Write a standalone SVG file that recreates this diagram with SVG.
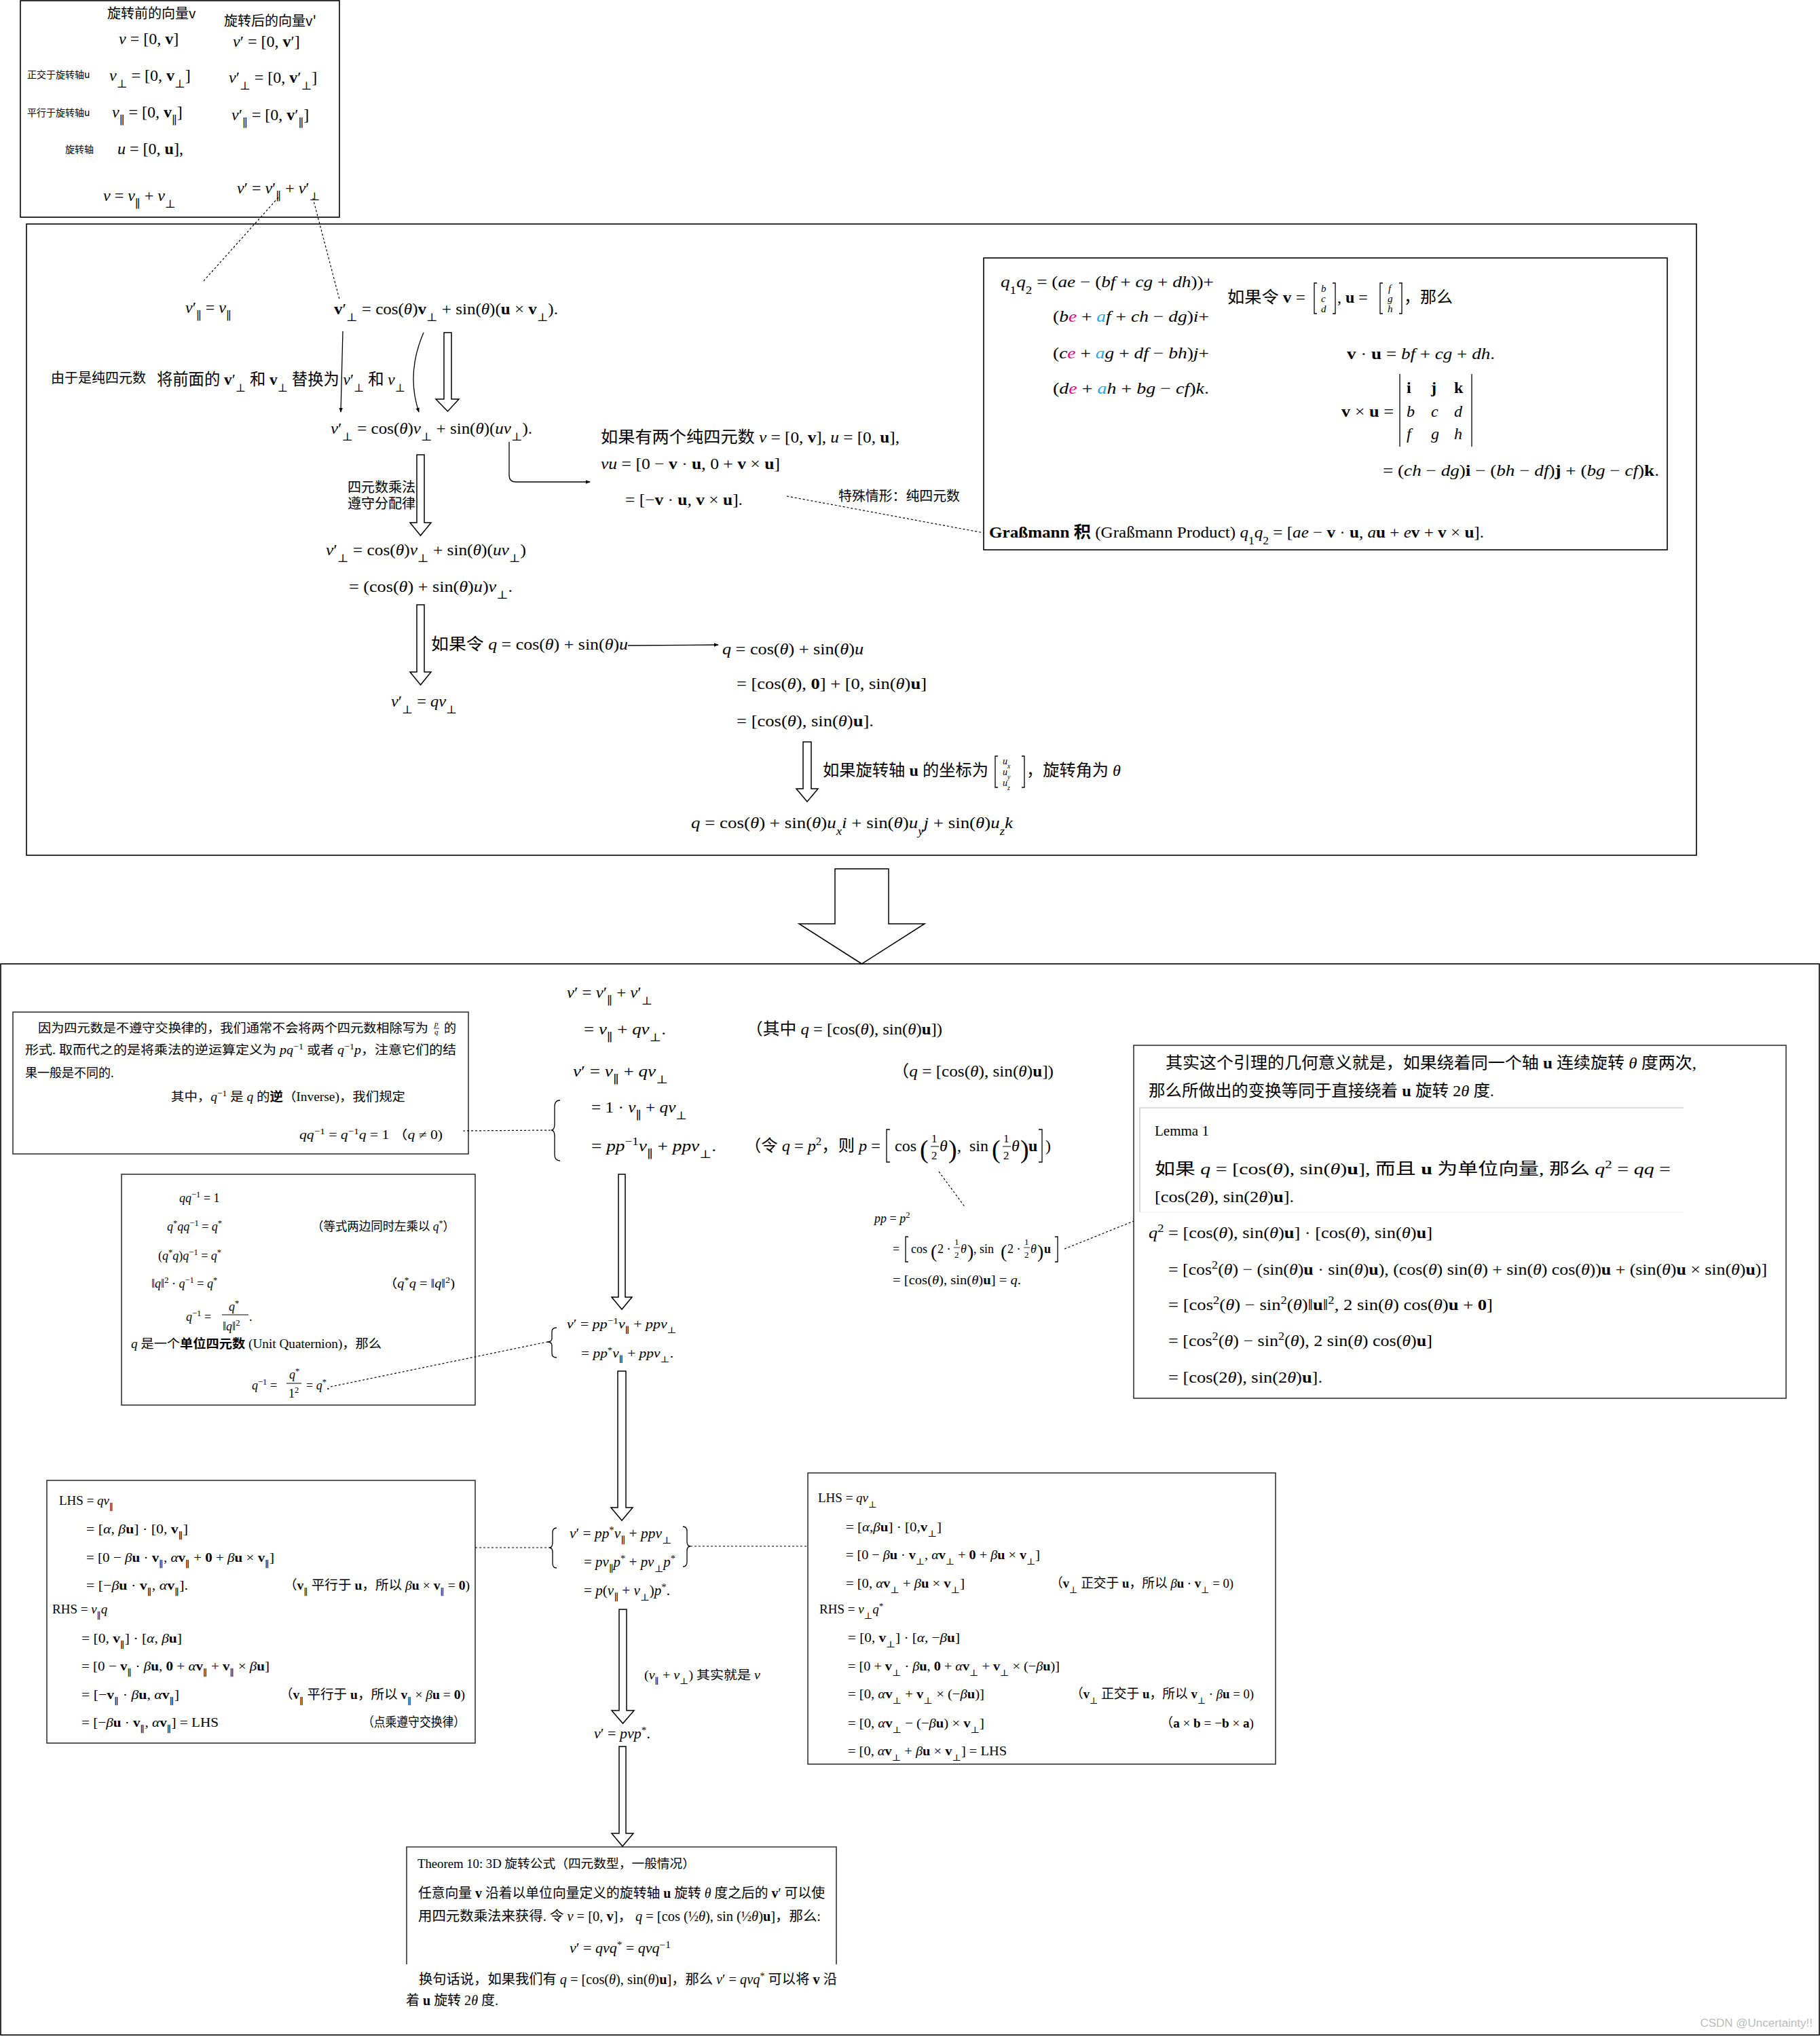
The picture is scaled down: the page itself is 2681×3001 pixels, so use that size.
<svg xmlns="http://www.w3.org/2000/svg" width="2681" height="3001" viewBox="0 0 2681 3001">
<defs>
<style>
.m{font-family:"Liberation Serif","DejaVu Serif","Noto Sans CJK SC",serif;fill:#000}
.cn{font-family:"Noto Sans CJK SC","Liberation Sans",sans-serif;fill:#000}
.i{font-style:italic}
.b{font-weight:bold}
.s{font-size:70%;baseline-shift:sub}
.p{font-size:70%;baseline-shift:super}
.pk{fill:#e6007e}
.bl{fill:#29a9e0}
.frame{fill:none;stroke:#000;stroke-width:1.6}
.box{fill:none;stroke:#333;stroke-width:1.6}
.hol{fill:#fff;stroke:#000;stroke-width:1.5;stroke-linejoin:miter}
.thin{fill:none;stroke:#000;stroke-width:1.3}
.dot{fill:none;stroke:#000;stroke-width:1.2;stroke-dasharray:3 3}
.br{fill:none;stroke:#000;stroke-width:1.3}
</style>
<marker id="ah" viewBox="0 0 10 10" refX="9" refY="5" markerWidth="7" markerHeight="7" orient="auto" markerUnits="userSpaceOnUse">
<path d="M0,1 L10,5 L0,9 Z" fill="#000"/>
</marker>
</defs>
<rect x="0" y="0" width="2681" height="3001" fill="#fff"/>

<!-- top box -->
<g id="top-box">
<rect class="frame" x="30" y="1" width="470" height="319"/>
<text class="cn" x="158" y="27" font-size="20">旋转前的向量v</text>
<text class="cn" x="330" y="38" font-size="20">旋转后的向量v'</text>
<text class="m" x="175" y="65" font-size="24"><tspan class="i">v</tspan> = [0, <tspan class="b">v</tspan>]</text>
<text class="m" x="343" y="69" font-size="24"><tspan class="i">v</tspan>′ = [0, <tspan class="b">v</tspan>′]</text>
<text class="cn" x="40" y="115" font-size="14">正交于旋转轴u</text>
<text class="m" x="161" y="119" font-size="24"><tspan class="i">v</tspan><tspan class="s">⊥</tspan> = [0, <tspan class="b">v</tspan><tspan class="s">⊥</tspan>]</text>
<text class="m" x="337" y="122" font-size="24"><tspan class="i">v</tspan>′<tspan class="s">⊥</tspan> = [0, <tspan class="b">v</tspan>′<tspan class="s">⊥</tspan>]</text>
<text class="cn" x="40" y="171" font-size="14">平行于旋转轴u</text>
<text class="m" x="165" y="173" font-size="24"><tspan class="i">v</tspan><tspan class="s">∥</tspan> = [0, <tspan class="b">v</tspan><tspan class="s">∥</tspan>]</text>
<text class="m" x="341" y="177" font-size="24"><tspan class="i">v</tspan>′<tspan class="s">∥</tspan> = [0, <tspan class="b">v</tspan>′<tspan class="s">∥</tspan>]</text>
<text class="cn" x="96" y="225" font-size="14">旋转轴</text>
<text class="m" x="173" y="227" font-size="24"><tspan class="i">u</tspan> = [0, <tspan class="b">u</tspan>],</text>
<text class="m" x="152" y="296" font-size="24"><tspan class="i">v</tspan> = <tspan class="i">v</tspan><tspan class="s">∥</tspan> + <tspan class="i">v</tspan><tspan class="s">⊥</tspan></text>
<text class="m" x="349" y="285" font-size="24"><tspan class="i">v</tspan>′ = <tspan class="i">v</tspan>′<tspan class="s">∥</tspan> + <tspan class="i">v</tspan>′<tspan class="s">⊥</tspan></text>
</g>

<!-- upper frame -->
<g id="upper-frame">
<rect class="frame" x="39" y="330" width="2460" height="930"/>
</g>

<g id="eq-vpar">
<text class="m" x="273" y="461" font-size="24"><tspan class="i">v</tspan>′<tspan class="s">∥</tspan> = <tspan class="i">v</tspan><tspan class="s">∥</tspan></text>
</g>
<g id="eq-vperp-vec">
<text class="m" x="492" y="463" font-size="24" textLength="330" lengthAdjust="spacingAndGlyphs"><tspan class="b">v</tspan>′<tspan class="s">⊥</tspan> = cos(<tspan class="i">θ</tspan>)<tspan class="b">v</tspan><tspan class="s">⊥</tspan> + sin(<tspan class="i">θ</tspan>)(<tspan class="b">u</tspan> × <tspan class="b">v</tspan><tspan class="s">⊥</tspan>).</text>
</g>
<g id="label-replace">
<text class="cn" x="75" y="564" font-size="20">由于是纯四元数</text>
<text class="m" x="231" y="567" font-size="24" textLength="366" lengthAdjust="spacingAndGlyphs">将前面的 <tspan class="b">v</tspan>′<tspan class="s">⊥</tspan> 和 <tspan class="b">v</tspan><tspan class="s">⊥</tspan> 替换为 <tspan class="i">v</tspan>′<tspan class="s">⊥</tspan> 和 <tspan class="i">v</tspan><tspan class="s">⊥</tspan></text>
</g>
<g id="eq-vperp-q1">
<text class="m" x="487" y="639" font-size="24" textLength="297" lengthAdjust="spacingAndGlyphs"><tspan class="i">v</tspan>′<tspan class="s">⊥</tspan> = cos(<tspan class="i">θ</tspan>)<tspan class="i">v</tspan><tspan class="s">⊥</tspan> + sin(<tspan class="i">θ</tspan>)(<tspan class="i">uv</tspan><tspan class="s">⊥</tspan>).</text>
</g>
<g id="label-distrib">
<text class="cn" x="512" y="725" font-size="20">四元数乘法</text>
<text class="cn" x="512" y="749" font-size="20">遵守分配律</text>
</g>
<g id="eq-vperp-q2">
<text class="m" x="480" y="818" font-size="24" textLength="295" lengthAdjust="spacingAndGlyphs"><tspan class="i">v</tspan>′<tspan class="s">⊥</tspan> = cos(<tspan class="i">θ</tspan>)<tspan class="i">v</tspan><tspan class="s">⊥</tspan> + sin(<tspan class="i">θ</tspan>)(<tspan class="i">uv</tspan><tspan class="s">⊥</tspan>)</text>
<text class="m" x="514" y="872" font-size="24" textLength="241" lengthAdjust="spacingAndGlyphs">= (cos(<tspan class="i">θ</tspan>) + sin(<tspan class="i">θ</tspan>)<tspan class="i">u</tspan>)<tspan class="i">v</tspan><tspan class="s">⊥</tspan>.</text>
</g>
<g id="label-letq">
<text class="m" x="635" y="957" font-size="24" textLength="290" lengthAdjust="spacingAndGlyphs">如果令 <tspan class="i">q</tspan> = cos(<tspan class="i">θ</tspan>) + sin(<tspan class="i">θ</tspan>)<tspan class="i">u</tspan></text>
</g>
<g id="eq-qv">
<text class="m" x="576" y="1041" font-size="24" textLength="97" lengthAdjust="spacingAndGlyphs"><tspan class="i">v</tspan>′<tspan class="s">⊥</tspan> = <tspan class="i">qv</tspan><tspan class="s">⊥</tspan></text>
</g>
<g id="eq-pure">
<text class="m" x="885" y="652" font-size="24" textLength="440" lengthAdjust="spacingAndGlyphs">如果有两个纯四元数 <tspan class="i">v</tspan> = [0, <tspan class="b">v</tspan>], <tspan class="i">u</tspan> = [0, <tspan class="b">u</tspan>],</text>
<text class="m" x="885" y="691" font-size="24" textLength="264" lengthAdjust="spacingAndGlyphs"><tspan class="i">vu</tspan> = [0 − <tspan class="b">v</tspan> · <tspan class="b">u</tspan>, 0 + <tspan class="b">v</tspan> × <tspan class="b">u</tspan>]</text>
<text class="m" x="921" y="744" font-size="24" textLength="173" lengthAdjust="spacingAndGlyphs">= [−<tspan class="b">v</tspan> · <tspan class="b">u</tspan>, <tspan class="b">v</tspan> × <tspan class="b">u</tspan>].</text>
</g>
<g id="label-special">
<text class="cn" x="1235" y="738" font-size="20" textLength="179" lengthAdjust="spacingAndGlyphs">特殊情形：纯四元数</text>
</g>
<g id="eq-q">
<text class="m" x="1064" y="964" font-size="24" textLength="208" lengthAdjust="spacingAndGlyphs"><tspan class="i">q</tspan> = cos(<tspan class="i">θ</tspan>) + sin(<tspan class="i">θ</tspan>)<tspan class="i">u</tspan></text>
<text class="m" x="1085" y="1015" font-size="24" textLength="280" lengthAdjust="spacingAndGlyphs">= [cos(<tspan class="i">θ</tspan>), <tspan class="b">0</tspan>] + [0, sin(<tspan class="i">θ</tspan>)<tspan class="b">u</tspan>]</text>
<text class="m" x="1085" y="1070" font-size="24" textLength="202" lengthAdjust="spacingAndGlyphs">= [cos(<tspan class="i">θ</tspan>), sin(<tspan class="i">θ</tspan>)<tspan class="b">u</tspan>].</text>
</g>
<g id="label-axis">
<text class="m" x="1212" y="1143" font-size="24" textLength="244" lengthAdjust="spacingAndGlyphs">如果旋转轴 <tspan class="b">u</tspan> 的坐标为</text>
<path class="br" d="M1470,1114 L1466,1114 L1466,1160 L1470,1160 M1505,1114 L1509,1114 L1509,1160 L1505,1160"/>
<text class="m i" x="1477" y="1126" font-size="14">u<tspan class="s">x</tspan></text>
<text class="m i" x="1477" y="1142" font-size="14">u<tspan class="s">y</tspan></text>
<text class="m i" x="1477" y="1158" font-size="14">u<tspan class="s">z</tspan></text>
<text class="m" x="1512" y="1143" font-size="24" textLength="139" lengthAdjust="spacingAndGlyphs">，旋转角为 <tspan class="i">θ</tspan></text>
</g>
<g id="eq-qijk">
<text class="m" x="1018" y="1220" font-size="24" textLength="474" lengthAdjust="spacingAndGlyphs"><tspan class="i">q</tspan> = cos(<tspan class="i">θ</tspan>) + sin(<tspan class="i">θ</tspan>)<tspan class="i">u</tspan><tspan class="s i">x</tspan><tspan class="i">i</tspan> + sin(<tspan class="i">θ</tspan>)<tspan class="i">u</tspan><tspan class="s i">y</tspan><tspan class="i">j</tspan> + sin(<tspan class="i">θ</tspan>)<tspan class="i">u</tspan><tspan class="s i">z</tspan><tspan class="i">k</tspan></text>
</g>

<!-- Grassmann box -->
<g id="grassmann-box">
<rect class="frame" x="1449" y="380" width="1007" height="430"/>
<text class="m" x="1474" y="423" font-size="24" textLength="314" lengthAdjust="spacingAndGlyphs"><tspan class="i">q</tspan><tspan class="s">1</tspan><tspan class="i">q</tspan><tspan class="s">2</tspan> = (<tspan class="i">ae</tspan> − (<tspan class="i">bf</tspan> + <tspan class="i">cg</tspan> + <tspan class="i">dh</tspan>))+</text>
<text class="m" x="1551" y="474" font-size="24" textLength="230" lengthAdjust="spacingAndGlyphs">(<tspan class="i">b</tspan><tspan class="i pk">e</tspan> + <tspan class="i bl">a</tspan><tspan class="i">f</tspan> + <tspan class="i">ch</tspan> − <tspan class="i">dg</tspan>)<tspan class="i">i</tspan>+</text>
<text class="m" x="1551" y="528" font-size="24" textLength="230" lengthAdjust="spacingAndGlyphs">(<tspan class="i">c</tspan><tspan class="i pk">e</tspan> + <tspan class="i bl">a</tspan><tspan class="i">g</tspan> + <tspan class="i">df</tspan> − <tspan class="i">bh</tspan>)<tspan class="i">j</tspan>+</text>
<text class="m" x="1551" y="580" font-size="24" textLength="230" lengthAdjust="spacingAndGlyphs">(<tspan class="i">d</tspan><tspan class="i pk">e</tspan> + <tspan class="i bl">a</tspan><tspan class="i">h</tspan> + <tspan class="i">bg</tspan> − <tspan class="i">cf</tspan>)<tspan class="i">k</tspan>.</text>
<text class="m" x="1808" y="446" font-size="24" textLength="115" lengthAdjust="spacingAndGlyphs">如果令 <tspan class="b">v</tspan> =</text>
<path class="br" d="M1940,417 L1936,417 L1936,462 L1940,462 M1963,417 L1967,417 L1967,462 L1963,462"/>
<text class="m i" x="1946" y="430" font-size="15">b</text>
<text class="m i" x="1946" y="445" font-size="15">c</text>
<text class="m i" x="1946" y="460" font-size="15">d</text>
<text class="m" x="1970" y="446" font-size="24">, <tspan class="b">u</tspan> =</text>
<path class="br" d="M2037,417 L2033,417 L2033,462 L2037,462 M2061,417 L2065,417 L2065,462 L2061,462"/>
<text class="m i" x="2045" y="430" font-size="15">f</text>
<text class="m i" x="2044" y="445" font-size="15">g</text>
<text class="m i" x="2044" y="460" font-size="15">h</text>
<text class="m" x="2068" y="446" font-size="24">，那么</text>
<text class="m" x="1984" y="529" font-size="24" textLength="218" lengthAdjust="spacingAndGlyphs"><tspan class="b">v</tspan> · <tspan class="b">u</tspan> = <tspan class="i">bf</tspan> + <tspan class="i">cg</tspan> + <tspan class="i">dh</tspan>.</text>
<text class="m" x="1976" y="614" font-size="24" textLength="77" lengthAdjust="spacingAndGlyphs"><tspan class="b">v</tspan> × <tspan class="b">u</tspan> =</text>
<path class="br" d="M2062,551 L2062,658 M2168,551 L2168,658"/>
<text class="m b" x="2072" y="579" font-size="24">i</text>
<text class="m b" x="2108" y="579" font-size="24">j</text>
<text class="m b" x="2142" y="579" font-size="24">k</text>
<text class="m i" x="2072" y="614" font-size="24">b</text>
<text class="m i" x="2108" y="614" font-size="24">c</text>
<text class="m i" x="2142" y="614" font-size="24">d</text>
<text class="m i" x="2072" y="647" font-size="24">f</text>
<text class="m i" x="2108" y="647" font-size="24">g</text>
<text class="m i" x="2142" y="647" font-size="24">h</text>
<text class="m" x="2037" y="701" font-size="24" textLength="407" lengthAdjust="spacingAndGlyphs">= (<tspan class="i">ch</tspan> − <tspan class="i">dg</tspan>)<tspan class="b">i</tspan> − (<tspan class="i">bh</tspan> − <tspan class="i">df</tspan>)<tspan class="b">j</tspan> + (<tspan class="i">bg</tspan> − <tspan class="i">cf</tspan>)<tspan class="b">k</tspan>.</text>
<text class="m" x="1457" y="792" font-size="24" textLength="729" lengthAdjust="spacingAndGlyphs"><tspan class="b">Graßmann 积</tspan> (Graßmann Product)  <tspan class="i">q</tspan><tspan class="s">1</tspan><tspan class="i">q</tspan><tspan class="s">2</tspan> = [<tspan class="i">ae</tspan> − <tspan class="b">v</tspan> · <tspan class="b">u</tspan>, <tspan class="i">a</tspan><tspan class="b">u</tspan> + <tspan class="i">e</tspan><tspan class="b">v</tspan> + <tspan class="b">v</tspan> × <tspan class="b">u</tspan>].</text>
</g>

<!-- lower frame -->
<g id="lower-frame">
<rect class="frame" x="1" y="1420" width="2679" height="1578"/>
</g>

<g id="inverse-box">
<rect class="box" x="19" y="1491" width="671" height="209"/>
<text class="m" x="56" y="1521" font-size="18" textLength="575" lengthAdjust="spacingAndGlyphs">因为四元数是不遵守交换律的，我们通常不会将两个四元数相除写为</text>
<text class="m i" x="640" y="1512" font-size="11">p</text>
<path d="M639,1515 L647,1515" stroke="#000" stroke-width="0.8"/>
<text class="m i" x="640" y="1524" font-size="11">q</text>
<text class="m" x="654" y="1521" font-size="18">的</text>
<text class="m" x="37" y="1553" font-size="18" textLength="635" lengthAdjust="spacingAndGlyphs">形式. 取而代之的是将乘法的逆运算定义为 <tspan class="i">pq</tspan><tspan class="p">−1</tspan> 或者 <tspan class="i">q</tspan><tspan class="p">−1</tspan><tspan class="i">p</tspan>，注意它们的结</text>
<text class="m" x="37" y="1587" font-size="18">果一般是不同的.</text>
<text class="m" x="252" y="1622" font-size="18" textLength="345" lengthAdjust="spacingAndGlyphs">其中，<tspan class="i">q</tspan><tspan class="p">−1</tspan> 是 <tspan class="i">q</tspan> 的<tspan class="b">逆</tspan>（Inverse)，我们规定</text>
<text class="m" x="441" y="1678" font-size="18" textLength="211" lengthAdjust="spacingAndGlyphs"><tspan class="i">qq</tspan><tspan class="p">−1</tspan> = <tspan class="i">q</tspan><tspan class="p">−1</tspan><tspan class="i">q</tspan> = 1 （<tspan class="i">q</tspan> ≠ 0)</text>
</g>

<g id="unit-box">
<rect class="box" x="179" y="1730" width="521" height="340"/>
<text class="m" x="264" y="1771" font-size="18"><tspan class="i">qq</tspan><tspan class="p">−1</tspan> = 1</text>
<text class="m" x="246" y="1813" font-size="18"><tspan class="i">q</tspan><tspan class="p">*</tspan><tspan class="i">qq</tspan><tspan class="p">−1</tspan> = <tspan class="i">q</tspan><tspan class="p">*</tspan></text>
<text class="m" x="459" y="1813" font-size="18" textLength="211" lengthAdjust="spacingAndGlyphs">（等式两边同时左乘以 <tspan class="i">q</tspan><tspan class="p">*</tspan>）</text>
<text class="m" x="233" y="1856" font-size="18">(<tspan class="i">q</tspan><tspan class="p">*</tspan><tspan class="i">q</tspan>)<tspan class="i">q</tspan><tspan class="p">−1</tspan> = <tspan class="i">q</tspan><tspan class="p">*</tspan></text>
<text class="m" x="223" y="1897" font-size="18">‖<tspan class="i">q</tspan>‖<tspan class="p">2</tspan> · <tspan class="i">q</tspan><tspan class="p">−1</tspan> = <tspan class="i">q</tspan><tspan class="p">*</tspan></text>
<text class="m" x="565" y="1897" font-size="18" textLength="105" lengthAdjust="spacingAndGlyphs">（<tspan class="i">q</tspan><tspan class="p">*</tspan><tspan class="i">q</tspan> = ‖<tspan class="i">q</tspan>‖<tspan class="p">2</tspan>)</text>
<text class="m" x="274" y="1946" font-size="18"><tspan class="i">q</tspan><tspan class="p">−1</tspan> =</text>
<text class="m" x="337" y="1931" font-size="18"><tspan class="i">q</tspan><tspan class="p">*</tspan></text>
<path d="M327,1937 L366,1937" stroke="#000" stroke-width="1"/>
<text class="m" x="328" y="1960" font-size="18">‖<tspan class="i">q</tspan>‖<tspan class="p">2</tspan></text>
<text class="m" x="367" y="1946" font-size="18">.</text>
<text class="m" x="193" y="1986" font-size="18" textLength="369" lengthAdjust="spacingAndGlyphs"><tspan class="i">q</tspan> 是一个<tspan class="b">单位四元数</tspan> (Unit Quaternion)，那么</text>
<text class="m" x="371" y="2047" font-size="18"><tspan class="i">q</tspan><tspan class="p">−1</tspan> =</text>
<text class="m" x="426" y="2031" font-size="18"><tspan class="i">q</tspan><tspan class="p">*</tspan></text>
<path d="M422,2038 L444,2038" stroke="#000" stroke-width="1"/>
<text class="m" x="425" y="2059" font-size="18">1<tspan class="p">2</tspan></text>
<text class="m" x="451" y="2047" font-size="18">= <tspan class="i">q</tspan><tspan class="p">*</tspan>.</text>
</g>

<g id="eq-vprime">
<text class="m" x="835" y="1470" font-size="24" textLength="126" lengthAdjust="spacingAndGlyphs"><tspan class="i">v</tspan>′ = <tspan class="i">v</tspan>′<tspan class="s">∥</tspan> + <tspan class="i">v</tspan>′<tspan class="s">⊥</tspan></text>
<text class="m" x="860" y="1524" font-size="24" textLength="121" lengthAdjust="spacingAndGlyphs">= <tspan class="i">v</tspan><tspan class="s">∥</tspan> + <tspan class="i">qv</tspan><tspan class="s">⊥</tspan>.</text>
<text class="m" x="1099" y="1524" font-size="24" textLength="289" lengthAdjust="spacingAndGlyphs">（其中 <tspan class="i">q</tspan> = [cos(<tspan class="i">θ</tspan>), sin(<tspan class="i">θ</tspan>)<tspan class="b">u</tspan>])</text>
</g>

<g id="eq-pp">
<text class="m" x="844" y="1586" font-size="24" textLength="140" lengthAdjust="spacingAndGlyphs"><tspan class="i">v</tspan>′ = <tspan class="i">v</tspan><tspan class="s">∥</tspan> + <tspan class="i">qv</tspan><tspan class="s">⊥</tspan></text>
<text class="m" x="1314" y="1586" font-size="24" textLength="238" lengthAdjust="spacingAndGlyphs">（<tspan class="i">q</tspan> = [cos(<tspan class="i">θ</tspan>), sin(<tspan class="i">θ</tspan>)<tspan class="b">u</tspan>])</text>
<text class="m" x="871" y="1639" font-size="24" textLength="141" lengthAdjust="spacingAndGlyphs">= 1 · <tspan class="i">v</tspan><tspan class="s">∥</tspan> + <tspan class="i">qv</tspan><tspan class="s">⊥</tspan></text>
<text class="m" x="871" y="1696" font-size="24" textLength="184" lengthAdjust="spacingAndGlyphs">= <tspan class="i">pp</tspan><tspan class="p">−1</tspan><tspan class="i">v</tspan><tspan class="s">∥</tspan> + <tspan class="i">ppv</tspan><tspan class="s">⊥</tspan>.</text>
<text class="m" x="1097" y="1696" font-size="24" textLength="200" lengthAdjust="spacingAndGlyphs">（令 <tspan class="i">q</tspan> = <tspan class="i">p</tspan><tspan class="p">2</tspan>，则 <tspan class="i">p</tspan> =</text>
<path class="br" d="M1311,1664 L1306,1664 L1306,1712 L1311,1712 M1530,1664 L1535,1664 L1535,1712 L1530,1712"/>
<text class="m" x="1318" y="1696" font-size="24">cos</text>
<text class="m" x="1355" y="1706" font-size="38">(</text>
<text class="m" x="1372" y="1683" font-size="17">1</text>
<path d="M1371,1689 L1383,1689" stroke="#000" stroke-width="1"/>
<text class="m" x="1372" y="1708" font-size="17">2</text>
<text class="m i" x="1384" y="1696" font-size="24">θ</text>
<text class="m" x="1397" y="1706" font-size="38">)</text>
<text class="m" x="1410" y="1696" font-size="24">,</text>
<text class="m" x="1428" y="1696" font-size="24">sin</text>
<text class="m" x="1461" y="1706" font-size="38">(</text>
<text class="m" x="1478" y="1683" font-size="17">1</text>
<path d="M1477,1689 L1489,1689" stroke="#000" stroke-width="1"/>
<text class="m" x="1478" y="1708" font-size="17">2</text>
<text class="m i" x="1490" y="1696" font-size="24">θ</text>
<text class="m" x="1503" y="1706" font-size="38">)</text>
<text class="m b" x="1515" y="1696" font-size="24">u</text>
<text class="m" x="1540" y="1696" font-size="24">)</text>
</g>

<g id="eq-p-square">
<text class="m" x="1288" y="1801" font-size="18"><tspan class="i">pp</tspan> = <tspan class="i">p</tspan><tspan class="p">2</tspan></text>
<text class="m" x="1315" y="1846" font-size="18">=</text>
<path class="br" d="M1338,1822 L1334,1822 L1334,1859 L1338,1859 M1554,1822 L1558,1822 L1558,1859 L1554,1859"/>
<text class="m" x="1342" y="1846" font-size="18">cos</text>
<text class="m" x="1371" y="1853" font-size="28">(</text>
<text class="m" x="1381" y="1846" font-size="18">2 ·</text>
<text class="m" x="1406" y="1834" font-size="13">1</text>
<path d="M1405,1838 L1414,1838" stroke="#000" stroke-width="0.8"/>
<text class="m" x="1406" y="1853" font-size="13">2</text>
<text class="m i" x="1415" y="1846" font-size="18">θ</text>
<text class="m" x="1425" y="1853" font-size="28">)</text>
<text class="m" x="1434" y="1846" font-size="18">, sin</text>
<text class="m" x="1474" y="1853" font-size="28">(</text>
<text class="m" x="1484" y="1846" font-size="18">2 ·</text>
<text class="m" x="1509" y="1834" font-size="13">1</text>
<path d="M1508,1838 L1517,1838" stroke="#000" stroke-width="0.8"/>
<text class="m" x="1509" y="1853" font-size="13">2</text>
<text class="m i" x="1518" y="1846" font-size="18">θ</text>
<text class="m" x="1528" y="1853" font-size="28">)</text>
<text class="m b" x="1538" y="1846" font-size="18">u</text>
<text class="m" x="1315" y="1892" font-size="18" textLength="189" lengthAdjust="spacingAndGlyphs">= [cos(<tspan class="i">θ</tspan>), sin(<tspan class="i">θ</tspan>)<tspan class="b">u</tspan>] = <tspan class="i">q</tspan>.</text>
</g>

<g id="eq-pstar">
<text class="m" x="835" y="1957" font-size="18" textLength="162" lengthAdjust="spacingAndGlyphs"><tspan class="i">v</tspan>′ = <tspan class="i">pp</tspan><tspan class="p">−1</tspan><tspan class="i">v</tspan><tspan class="s">∥</tspan> + <tspan class="i">ppv</tspan><tspan class="s">⊥</tspan></text>
<text class="m" x="856" y="2000" font-size="18" textLength="136" lengthAdjust="spacingAndGlyphs">= <tspan class="i">pp</tspan><tspan class="p">*</tspan><tspan class="i">v</tspan><tspan class="s">∥</tspan> + <tspan class="i">ppv</tspan><tspan class="s">⊥</tspan>.</text>
</g>

<g id="eq-pvp">
<text class="m" x="839" y="2266" font-size="20" textLength="150" lengthAdjust="spacingAndGlyphs"><tspan class="i">v</tspan>′ = <tspan class="i">pp</tspan><tspan class="p">*</tspan><tspan class="i">v</tspan><tspan class="s">∥</tspan> + <tspan class="i">ppv</tspan><tspan class="s">⊥</tspan></text>
<text class="m" x="860" y="2308" font-size="20" textLength="135" lengthAdjust="spacingAndGlyphs">= <tspan class="i">pv</tspan><tspan class="s">∥</tspan><tspan class="i">p</tspan><tspan class="p">*</tspan> + <tspan class="i">pv</tspan><tspan class="s">⊥</tspan><tspan class="i">p</tspan><tspan class="p">*</tspan></text>
<text class="m" x="860" y="2350" font-size="20" textLength="127" lengthAdjust="spacingAndGlyphs">= <tspan class="i">p</tspan>(<tspan class="i">v</tspan><tspan class="s">∥</tspan> + <tspan class="i">v</tspan><tspan class="s">⊥</tspan>)<tspan class="i">p</tspan><tspan class="p">*</tspan>.</text>
</g>
<g id="label-v">
<text class="m" x="949" y="2474" font-size="18" textLength="171" lengthAdjust="spacingAndGlyphs">(<tspan class="i">v</tspan><tspan class="s">∥</tspan> + <tspan class="i">v</tspan><tspan class="s">⊥</tspan>) 其实就是 <tspan class="i">v</tspan></text>
</g>
<g id="eq-final">
<text class="m" x="875" y="2561" font-size="20" textLength="83" lengthAdjust="spacingAndGlyphs"><tspan class="i">v</tspan>′ = <tspan class="i">pvp</tspan><tspan class="p">*</tspan>.</text>
</g>

<g id="lemma-box">
<rect class="box" x="1670" y="1540" width="961" height="520"/>
<text class="m" x="1717" y="1574" font-size="24" textLength="782" lengthAdjust="spacingAndGlyphs">其实这个引理的几何意义就是，如果绕着同一个轴 <tspan class="b">u</tspan> 连续旋转 <tspan class="i">θ</tspan> 度两次,</text>
<text class="m" x="1692" y="1615" font-size="24" textLength="509" lengthAdjust="spacingAndGlyphs">那么所做出的变换等同于直接绕着 <tspan class="b">u</tspan> 旋转 2<tspan class="i">θ</tspan> 度.</text>
<path d="M2480,1632 L1679,1632 L1679,1786" fill="none" stroke="#bbb" stroke-width="1.2"/>
<path d="M1679,1786 L2480,1786" fill="none" stroke="#eee" stroke-width="1"/>
<text class="m" x="1701" y="1673" font-size="21">Lemma 1</text>
<text class="m" x="1701" y="1730" font-size="24" textLength="760" lengthAdjust="spacingAndGlyphs">如果 <tspan class="i">q</tspan> = [cos(<tspan class="i">θ</tspan>), sin(<tspan class="i">θ</tspan>)<tspan class="b">u</tspan>], 而且 <tspan class="b">u</tspan> 为单位向量, 那么 <tspan class="i">q</tspan><tspan class="p">2</tspan> = <tspan class="i">qq</tspan> =</text>
<text class="m" x="1701" y="1771" font-size="24" textLength="205" lengthAdjust="spacingAndGlyphs">[cos(2<tspan class="i">θ</tspan>), sin(2<tspan class="i">θ</tspan>)<tspan class="b">u</tspan>].</text>
<text class="m" x="1692" y="1824" font-size="24" textLength="418" lengthAdjust="spacingAndGlyphs"><tspan class="i">q</tspan><tspan class="p">2</tspan> = [cos(<tspan class="i">θ</tspan>), sin(<tspan class="i">θ</tspan>)<tspan class="b">u</tspan>] · [cos(<tspan class="i">θ</tspan>), sin(<tspan class="i">θ</tspan>)<tspan class="b">u</tspan>]</text>
<text class="m" x="1721" y="1878" font-size="24" textLength="882" lengthAdjust="spacingAndGlyphs">= [cos<tspan class="p">2</tspan>(<tspan class="i">θ</tspan>) − (sin(<tspan class="i">θ</tspan>)<tspan class="b">u</tspan> · sin(<tspan class="i">θ</tspan>)<tspan class="b">u</tspan>), (cos(<tspan class="i">θ</tspan>) sin(<tspan class="i">θ</tspan>) + sin(<tspan class="i">θ</tspan>) cos(<tspan class="i">θ</tspan>))<tspan class="b">u</tspan> + (sin(<tspan class="i">θ</tspan>)<tspan class="b">u</tspan> × sin(<tspan class="i">θ</tspan>)<tspan class="b">u</tspan>)]</text>
<text class="m" x="1721" y="1930" font-size="24" textLength="478" lengthAdjust="spacingAndGlyphs">= [cos<tspan class="p">2</tspan>(<tspan class="i">θ</tspan>) − sin<tspan class="p">2</tspan>(<tspan class="i">θ</tspan>)‖<tspan class="b">u</tspan>‖<tspan class="p">2</tspan>, 2 sin(<tspan class="i">θ</tspan>) cos(<tspan class="i">θ</tspan>)<tspan class="b">u</tspan> + <tspan class="b">0</tspan>]</text>
<text class="m" x="1721" y="1983" font-size="24" textLength="389" lengthAdjust="spacingAndGlyphs">= [cos<tspan class="p">2</tspan>(<tspan class="i">θ</tspan>) − sin<tspan class="p">2</tspan>(<tspan class="i">θ</tspan>), 2 sin(<tspan class="i">θ</tspan>) cos(<tspan class="i">θ</tspan>)<tspan class="b">u</tspan>]</text>
<text class="m" x="1721" y="2037" font-size="24" textLength="227" lengthAdjust="spacingAndGlyphs">= [cos(2<tspan class="i">θ</tspan>), sin(2<tspan class="i">θ</tspan>)<tspan class="b">u</tspan>].</text>
</g>

<g id="lhs-par-box">
<rect class="box" x="69" y="2181" width="631" height="387"/>
<text class="m" x="87" y="2217" font-size="19">LHS = <tspan class="i">qv</tspan><tspan class="s">∥</tspan></text>
<text class="m" x="127" y="2259" font-size="19" textLength="150" lengthAdjust="spacingAndGlyphs">= [<tspan class="i">α</tspan>, <tspan class="i">β</tspan><tspan class="b">u</tspan>] · [0, <tspan class="b">v</tspan><tspan class="s">∥</tspan>]</text>
<text class="m" x="127" y="2301" font-size="19" textLength="277" lengthAdjust="spacingAndGlyphs">= [0 − <tspan class="i">β</tspan><tspan class="b">u</tspan> · <tspan class="b">v</tspan><tspan class="s">∥</tspan>, <tspan class="i">α</tspan><tspan class="b">v</tspan><tspan class="s">∥</tspan> + <tspan class="b">0</tspan> + <tspan class="i">β</tspan><tspan class="b">u</tspan> × <tspan class="b">v</tspan><tspan class="s">∥</tspan>]</text>
<text class="m" x="127" y="2342" font-size="19" textLength="150" lengthAdjust="spacingAndGlyphs">= [−<tspan class="i">β</tspan><tspan class="b">u</tspan> · <tspan class="b">v</tspan><tspan class="s">∥</tspan>, <tspan class="i">α</tspan><tspan class="b">v</tspan><tspan class="s">∥</tspan>].</text>
<text class="m" x="418" y="2342" font-size="19" textLength="274" lengthAdjust="spacingAndGlyphs">（<tspan class="b">v</tspan><tspan class="s">∥</tspan> 平行于 <tspan class="b">u</tspan>，所以 <tspan class="i">β</tspan><tspan class="b">u</tspan> × <tspan class="b">v</tspan><tspan class="s">∥</tspan> = <tspan class="b">0</tspan>)</text>
<text class="m" x="77" y="2377" font-size="19">RHS = <tspan class="i">v</tspan><tspan class="s">∥</tspan><tspan class="i">q</tspan></text>
<text class="m" x="120" y="2420" font-size="19" textLength="148" lengthAdjust="spacingAndGlyphs">= [0, <tspan class="b">v</tspan><tspan class="s">∥</tspan>] · [<tspan class="i">α</tspan>, <tspan class="i">β</tspan><tspan class="b">u</tspan>]</text>
<text class="m" x="120" y="2461" font-size="19" textLength="277" lengthAdjust="spacingAndGlyphs">= [0 − <tspan class="b">v</tspan><tspan class="s">∥</tspan> · <tspan class="i">β</tspan><tspan class="b">u</tspan>, <tspan class="b">0</tspan> + <tspan class="i">α</tspan><tspan class="b">v</tspan><tspan class="s">∥</tspan> + <tspan class="b">v</tspan><tspan class="s">∥</tspan> × <tspan class="i">β</tspan><tspan class="b">u</tspan>]</text>
<text class="m" x="120" y="2503" font-size="19" textLength="144" lengthAdjust="spacingAndGlyphs">= [−<tspan class="b">v</tspan><tspan class="s">∥</tspan> · <tspan class="i">β</tspan><tspan class="b">u</tspan>, <tspan class="i">α</tspan><tspan class="b">v</tspan><tspan class="s">∥</tspan>]</text>
<text class="m" x="412" y="2503" font-size="19" textLength="273" lengthAdjust="spacingAndGlyphs">（<tspan class="b">v</tspan><tspan class="s">∥</tspan> 平行于 <tspan class="b">u</tspan>，所以 <tspan class="b">v</tspan><tspan class="s">∥</tspan> × <tspan class="i">β</tspan><tspan class="b">u</tspan> = <tspan class="b">0</tspan>)</text>
<text class="m" x="120" y="2544" font-size="19" textLength="202" lengthAdjust="spacingAndGlyphs">= [−<tspan class="i">β</tspan><tspan class="b">u</tspan> · <tspan class="b">v</tspan><tspan class="s">∥</tspan>, <tspan class="i">α</tspan><tspan class="b">v</tspan><tspan class="s">∥</tspan>] = LHS</text>
<text class="m" x="534" y="2544" font-size="19" textLength="151" lengthAdjust="spacingAndGlyphs">（点乘遵守交换律）</text>
</g>

<g id="lhs-perp-box">
<rect class="box" x="1190" y="2170" width="689" height="429"/>
<text class="m" x="1205" y="2213" font-size="19">LHS = <tspan class="i">qv</tspan><tspan class="s">⊥</tspan></text>
<text class="m" x="1246" y="2256" font-size="19" textLength="141" lengthAdjust="spacingAndGlyphs">= [<tspan class="i">α</tspan>,<tspan class="i">β</tspan><tspan class="b">u</tspan>] · [0,<tspan class="b">v</tspan><tspan class="s">⊥</tspan>]</text>
<text class="m" x="1246" y="2297" font-size="19" textLength="286" lengthAdjust="spacingAndGlyphs">= [0 − <tspan class="i">β</tspan><tspan class="b">u</tspan> · <tspan class="b">v</tspan><tspan class="s">⊥</tspan>, <tspan class="i">α</tspan><tspan class="b">v</tspan><tspan class="s">⊥</tspan> + <tspan class="b">0</tspan> + <tspan class="i">β</tspan><tspan class="b">u</tspan> × <tspan class="b">v</tspan><tspan class="s">⊥</tspan>]</text>
<text class="m" x="1246" y="2339" font-size="19" textLength="175" lengthAdjust="spacingAndGlyphs">= [0, <tspan class="i">α</tspan><tspan class="b">v</tspan><tspan class="s">⊥</tspan> + <tspan class="i">β</tspan><tspan class="b">u</tspan> × <tspan class="b">v</tspan><tspan class="s">⊥</tspan>]</text>
<text class="m" x="1547" y="2339" font-size="19" textLength="270" lengthAdjust="spacingAndGlyphs">（<tspan class="b">v</tspan><tspan class="s">⊥</tspan> 正交于 <tspan class="b">u</tspan>，所以 <tspan class="i">β</tspan><tspan class="b">u</tspan> · <tspan class="b">v</tspan><tspan class="s">⊥</tspan> = 0)</text>
<text class="m" x="1207" y="2377" font-size="19">RHS = <tspan class="i">v</tspan><tspan class="s">⊥</tspan><tspan class="i">q</tspan><tspan class="p">*</tspan></text>
<text class="m" x="1249" y="2419" font-size="19" textLength="165" lengthAdjust="spacingAndGlyphs">= [0, <tspan class="b">v</tspan><tspan class="s">⊥</tspan>] · [<tspan class="i">α</tspan>, −<tspan class="i">β</tspan><tspan class="b">u</tspan>]</text>
<text class="m" x="1249" y="2461" font-size="19" textLength="312" lengthAdjust="spacingAndGlyphs">= [0 + <tspan class="b">v</tspan><tspan class="s">⊥</tspan> · <tspan class="i">β</tspan><tspan class="b">u</tspan>, <tspan class="b">0</tspan> + <tspan class="i">α</tspan><tspan class="b">v</tspan><tspan class="s">⊥</tspan> + <tspan class="b">v</tspan><tspan class="s">⊥</tspan> × (−<tspan class="i">β</tspan><tspan class="b">u</tspan>)]</text>
<text class="m" x="1249" y="2502" font-size="19" textLength="201" lengthAdjust="spacingAndGlyphs">= [0, <tspan class="i">α</tspan><tspan class="b">v</tspan><tspan class="s">⊥</tspan> + <tspan class="b">v</tspan><tspan class="s">⊥</tspan> × (−<tspan class="i">β</tspan><tspan class="b">u</tspan>)]</text>
<text class="m" x="1577" y="2502" font-size="19" textLength="270" lengthAdjust="spacingAndGlyphs">（<tspan class="b">v</tspan><tspan class="s">⊥</tspan> 正交于 <tspan class="b">u</tspan>，所以 <tspan class="b">v</tspan><tspan class="s">⊥</tspan> · <tspan class="i">β</tspan><tspan class="b">u</tspan> = 0)</text>
<text class="m" x="1249" y="2545" font-size="19" textLength="201" lengthAdjust="spacingAndGlyphs">= [0, <tspan class="i">α</tspan><tspan class="b">v</tspan><tspan class="s">⊥</tspan> − (−<tspan class="i">β</tspan><tspan class="b">u</tspan>) × <tspan class="b">v</tspan><tspan class="s">⊥</tspan>]</text>
<text class="m" x="1709" y="2545" font-size="19" textLength="138" lengthAdjust="spacingAndGlyphs">（<tspan class="b">a</tspan> × <tspan class="b">b</tspan> = −<tspan class="b">b</tspan> × <tspan class="b">a</tspan>)</text>
<text class="m" x="1249" y="2586" font-size="19" textLength="234" lengthAdjust="spacingAndGlyphs">= [0, <tspan class="i">α</tspan><tspan class="b">v</tspan><tspan class="s">⊥</tspan> + <tspan class="i">β</tspan><tspan class="b">u</tspan> × <tspan class="b">v</tspan><tspan class="s">⊥</tspan>] = LHS</text>
</g>

<g id="theorem-box">
<path class="box" d="M599,2894 L599,2721 L1232,2721 L1232,2894"/>
<text class="m" x="615" y="2752" font-size="18" textLength="409" lengthAdjust="spacingAndGlyphs">Theorem 10: 3D 旋转公式（四元数型，一般情况）</text>
<text class="m" x="616" y="2796" font-size="20" textLength="599" lengthAdjust="spacingAndGlyphs">任意向量 <tspan class="b">v</tspan> 沿着以单位向量定义的旋转轴 <tspan class="b">u</tspan> 旋转 <tspan class="i">θ</tspan> 度之后的 <tspan class="b">v</tspan>′ 可以使</text>
<text class="m" x="616" y="2830" font-size="20" textLength="593" lengthAdjust="spacingAndGlyphs">用四元数乘法来获得. 令 <tspan class="i">v</tspan> = [0, <tspan class="b">v</tspan>]， <tspan class="i">q</tspan> = [cos (½<tspan class="i">θ</tspan>), sin (½<tspan class="i">θ</tspan>)<tspan class="b">u</tspan>]，那么:</text>
<text class="m" x="839" y="2877" font-size="20" textLength="149" lengthAdjust="spacingAndGlyphs"><tspan class="i">v</tspan>′ = <tspan class="i">qvq</tspan><tspan class="p">*</tspan> = <tspan class="i">qvq</tspan><tspan class="p">−1</tspan></text>
<text class="m" x="617" y="2923" font-size="20" textLength="616" lengthAdjust="spacingAndGlyphs">换句话说，如果我们有 <tspan class="i">q</tspan> = [cos(<tspan class="i">θ</tspan>), sin(<tspan class="i">θ</tspan>)<tspan class="b">u</tspan>]，那么 <tspan class="i">v</tspan>′ = <tspan class="i">qvq</tspan><tspan class="p">*</tspan> 可以将 <tspan class="b">v</tspan> 沿</text>
<text class="m" x="598" y="2954" font-size="20">着 <tspan class="b">u</tspan> 旋转 2<tspan class="i">θ</tspan> 度.</text>
</g>

<g id="watermark">
<text x="2670" y="2986" font-family="Liberation Sans, sans-serif" font-size="17" fill="#bbb" text-anchor="end">CSDN @Uncertainty!!</text>
</g>

<!-- connectors -->
<g id="connectors">
<path class="dot" d="M410,291 L298,416"/>
<path class="dot" d="M461,292 L500,441"/>
<path class="dot" d="M1159,731 L1449,785"/>
<path class="thin" d="M505,488 L502,607" marker-end="url(#ah)"/>
<path class="thin" d="M624,490 Q598,550 617,607" marker-end="url(#ah)"/>
<path class="hol" d="M654,490 L665,490 L665,588 L676,588 L659.5,606 L642,588 L654,588 Z"/>
<path class="hol" d="M614,670 L625,670 L625,770 L635,770 L619.5,789 L604,770 L614,770 Z"/>
<path class="hol" d="M614,891 L625,891 L625,990 L635,990 L619.5,1009 L604,990 L614,990 Z"/>
<path class="thin" d="M750,651 L750,700 Q750,710 760,710 L869,710" marker-end="url(#ah)"/>
<path class="thin" d="M925,951 L1058,950" marker-end="url(#ah)"/>
<path class="hol" d="M1183,1093 L1195,1093 L1195,1162 L1205,1162 L1189,1181 L1173,1162 L1183,1162 Z"/>
<path class="hol" d="M1230,1280 L1309,1280 L1309,1361 L1362,1361 L1269.5,1420 L1177,1361 L1230,1361 Z"/>
<path class="hol" d="M911,1730 L921,1730 L921,1911 L931,1911 L916,1929 L901,1911 L911,1911 Z"/>
<path class="hol" d="M910,2020 L922,2020 L922,2221 L932,2221 L916,2240 L900,2221 L910,2221 Z"/>
<path class="hol" d="M912,2371 L923,2371 L923,2520 L934,2520 L917.5,2539 L901,2520 L912,2520 Z"/>
<path class="hol" d="M912,2573 L922,2573 L922,2701 L933,2701 L917,2720 L901,2701 L912,2701 Z"/>
<path class="br" d="M825,1621 Q817,1621 817,1630 L817,1656 Q817,1665 812,1665 Q817,1665 817,1674 L817,1701 Q817,1710 825,1710"/>
<path class="br" d="M820,1956 Q813,1956 813,1962 L813,1972 Q813,1977 806,1977 Q813,1977 813,1982 L813,1994 Q813,2000 820,2000"/>
<path class="br" d="M820,2251 Q814,2251 814,2258 L814,2273 Q814,2280 809,2280 Q814,2280 814,2287 L814,2303 Q814,2310 820,2310"/>
<path class="br" d="M1006,2249 Q1012,2249 1012,2256 L1012,2271 Q1012,2278 1017,2278 Q1012,2278 1012,2285 L1012,2301 Q1012,2308 1006,2308"/>
<path class="dot" d="M682,1666 L812,1665"/>
<path class="dot" d="M487,2043 L806,1977"/>
<path class="dot" d="M700,2280 L809,2280"/>
<path class="dot" d="M1017,2278 L1190,2278"/>
<path class="dot" d="M1383,1726 L1422,1779"/>
<path class="dot" d="M1568,1840 L1670,1799"/>
</g>
</svg>
